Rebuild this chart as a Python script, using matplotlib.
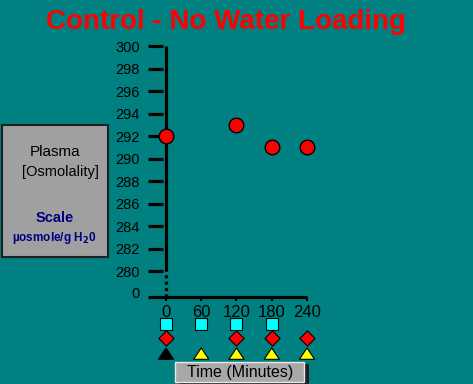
import matplotlib
matplotlib.use("Agg")
import matplotlib.pyplot as plt
from matplotlib.patches import Rectangle
from matplotlib.path import Path
import matplotlib.transforms as mtransforms

# ---- data ----
time_min = [0, 120, 180, 240]
osmolality = [292, 293, 291, 291]
x_ticks = [0, 60, 120, 180, 240]
y_ticks = [280, 282, 284, 286, 288, 290, 292, 294, 296, 298, 300]
zero_pos = 278.13  # broken-axis position for the "0" label
square_times = [0, 60, 120, 180]
diamond_times = [0, 120, 180, 240]
triangle_times = [0, 60, 120, 180, 240]
triangle_colors = ["black", "yellow", "yellow", "yellow", "yellow"]

BG = "#008080"
W, H = 473, 384
fig = plt.figure(figsize=(W / 100, H / 100), dpi=100, facecolor=BG)

def px(x0, y0, x1, y1):
    return [x0 / W, 1 - y1 / H, (x1 - x0) / W, (y1 - y0) / H]

ax = fig.add_axes(px(148, 45, 310, 297))
ax.set_facecolor("none")
ax.set_xlim(-30.6, 245.1)
ax.set_ylim(277.69, 300.09)
for s in ax.spines.values():
    s.set_visible(False)

# vertical axis (solid part + dotted break)
ax.plot([0, 0], [280, 300.0], color="black", lw=2.3, solid_capstyle="butt", clip_on=False)
ax.plot([0, 0], [277.69, 280], color="black", lw=2.3, ls=(0, (1.0, 1.0)), clip_on=False)
# horizontal axis
ax.plot([-30.6, 240], [277.69, 277.69], color="black", lw=2.3, clip_on=False,
        solid_capstyle="butt")

ax.set_yticks(y_ticks + [zero_pos])
ax.set_yticklabels([str(v) for v in y_ticks] + ["0"])
ax.tick_params(axis="y", direction="in", length=11, width=2.3, pad=6,
               labelsize=10.5, colors="black", left=True)
ax.set_xticks(x_ticks)
ax.set_xticklabels([str(v) for v in x_ticks])
ax.tick_params(axis="x", direction="out", length=3, width=1.5, pad=2.5,
               labelsize=12, colors="black")
for lab in ax.get_yticklabels():
    lab.set_family("Liberation Sans")
for lab in ax.get_xticklabels():
    lab.set_family("Liberation Sans")
ax.yaxis.get_major_ticks()[-1].tick1line.set_visible(False)

# data points
ax.plot(time_min, osmolality, ls="none", marker="o", ms=10.5,
        mfc="red", mec="black", mew=1.0, zorder=5, clip_on=False)

# symbol rows under the axis
trans = mtransforms.blended_transform_factory(ax.transData, fig.transFigure)
tri = Path([(-1.0, -0.7), (1.0, -0.7), (0.0, 0.8), (-1.0, -0.7)],
           [Path.MOVETO, Path.LINETO, Path.LINETO, Path.CLOSEPOLY])
ax.scatter(square_times, [1 - 323.5 / H] * len(square_times), transform=trans,
           marker="s", s=85, c="#00ffff", edgecolors="black", linewidths=0.8, clip_on=False)
ax.scatter(diamond_times, [1 - 338 / H] * len(diamond_times), transform=trans,
           marker="D", s=60, c="red", edgecolors="black", linewidths=0.8, clip_on=False)
ax.scatter(triangle_times, [1 - 354 / H] * len(triangle_times), transform=trans,
           marker=tri, s=120, c=triangle_colors, edgecolors="black", linewidths=0.8,
           clip_on=False)

# Time (Minutes) box with shadow
fig.patches.append(Rectangle((179 / W, 1 - 386 / H), 130 / W, 22 / H,
                             transform=fig.transFigure, facecolor="#202020", edgecolor="none"))
fig.patches.append(Rectangle((175 / W, 1 - 382 / H), 129 / W, 20 / H,
                             transform=fig.transFigure, facecolor="#a8a8a8",
                             edgecolor="#e8e8e8", lw=1))
fig.text(240 / W, 1 - 372 / H, "Time (Minutes)", ha="center", va="center",
         fontsize=11.5, family="Liberation Sans", color="black")

# Left label box
fig.patches.append(Rectangle((2 / W, 1 - 257 / H), 106 / W, 132 / H,
                             transform=fig.transFigure, facecolor="#a0a0a0",
                             edgecolor="#202020", lw=1.5))
fig.text(55 / W, 1 - 152 / H, "Plasma", ha="center", va="center",
         fontsize=11, family="Liberation Sans", color="black")
fig.text(60 / W, 1 - 172 / H, "[Osmolality]", ha="center", va="center",
         fontsize=10.5, family="Liberation Sans", color="black")
fig.text(55 / W, 1 - 218 / H, "Scale", ha="center", va="center",
         fontsize=10.5, family="Liberation Sans", weight="bold", color="#000080")
fig.text(54 / W, 1 - 238 / H, "µosmole/g H$_\\mathbf{2}$0", ha="center", va="center",
         fontsize=8.5, family="Liberation Sans", weight="bold", color="#000080")

# Title
fig.text(226 / W, 1 - 22 / H, "Control - No Water Loading", ha="center", va="center",
         fontsize=20, family="Liberation Sans", weight="bold", color="red")

fig.savefig("out.png", dpi=100, facecolor=BG)
